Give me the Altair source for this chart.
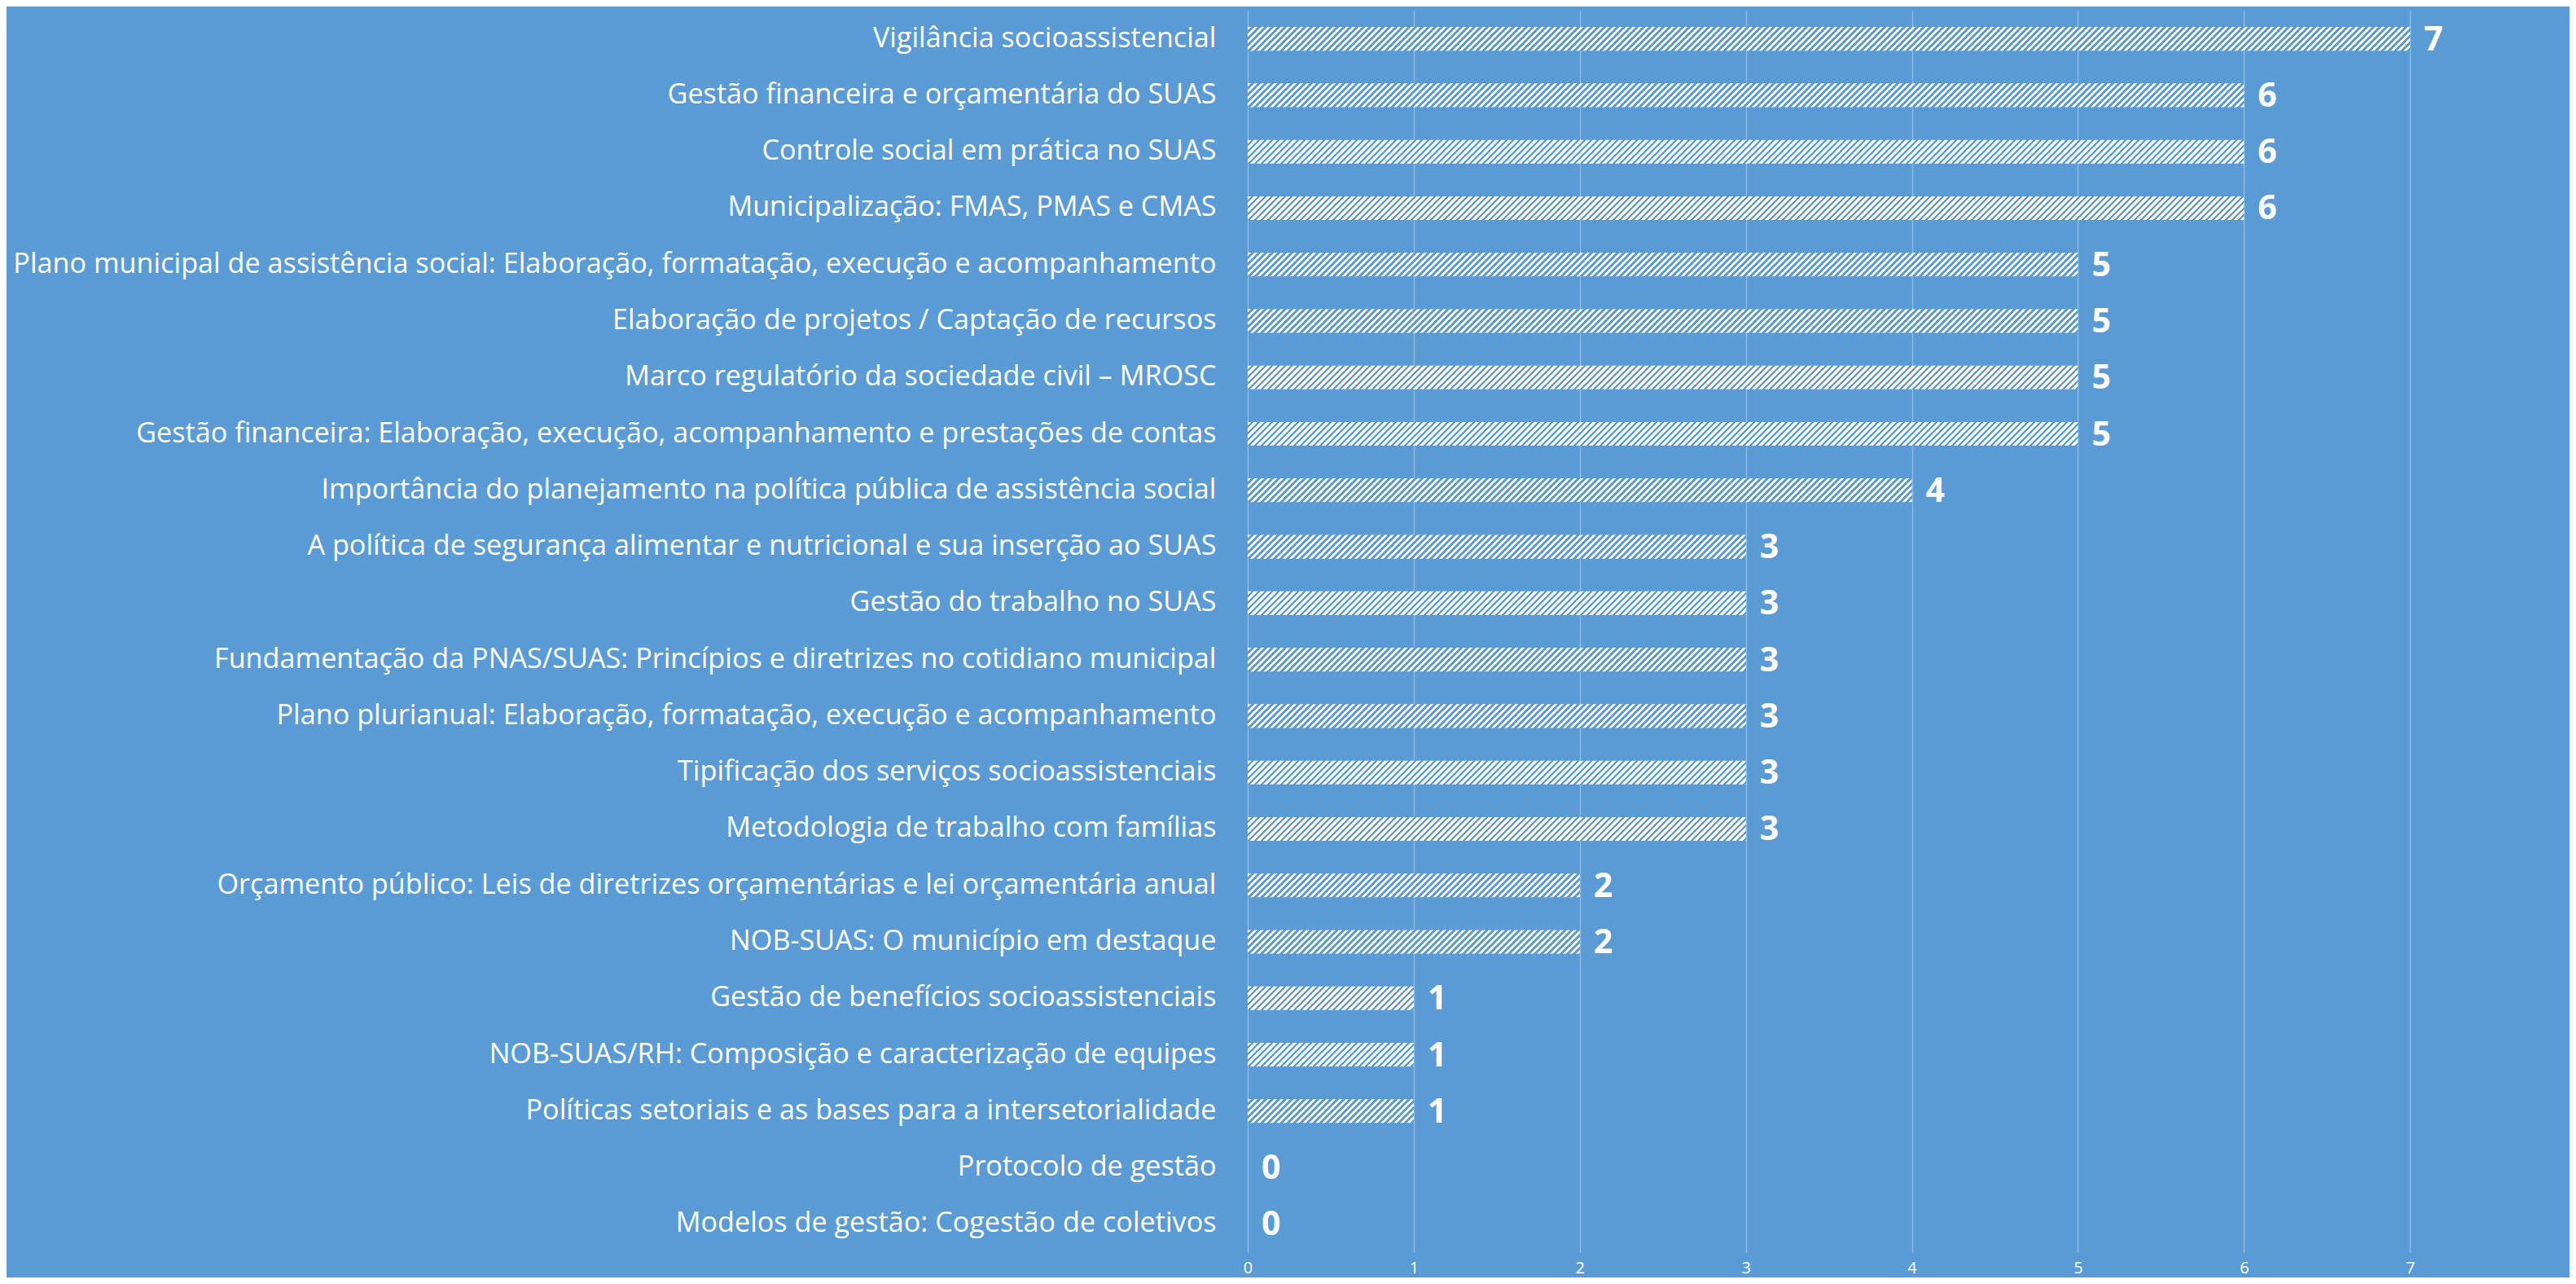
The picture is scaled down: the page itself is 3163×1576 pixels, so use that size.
import altair as alt
import pandas as pd

categories = [
    "Vigilância socioassistencial",
    "Gestão financeira e orçamentária do SUAS",
    "Controle social em prática no SUAS",
    "Municipalização: FMAS, PMAS e CMAS",
    "Plano municipal de assistência social: Elaboração, formatação, execução e acompanhamento",
    "Elaboração de projetos / Captação de recursos",
    "Marco regulatório da sociedade civil – MROSC",
    "Gestão financeira: Elaboração, execução, acompanhamento e prestações de contas",
    "Importância do planejamento na política pública de assistência social",
    "A política de segurança alimentar e nutricional e sua inserção ao SUAS",
    "Gestão do trabalho no SUAS",
    "Fundamentação da PNAS/SUAS: Princípios e diretrizes no cotidiano municipal",
    "Plano plurianual: Elaboração, formatação, execução e acompanhamento",
    "Tipificação dos serviços socioassistenciais",
    "Metodologia de trabalho com famílias",
    "Orçamento público: Leis de diretrizes orçamentárias e lei orçamentária anual",
    "NOB-SUAS: O município em destaque",
    "Gestão de benefícios socioassistenciais",
    "NOB-SUAS/RH: Composição e caracterização de equipes",
    "Políticas setoriais e as bases para a intersetorialidade",
    "Protocolo de gestão",
    "Modelos de gestão: Cogestão de coletivos",
]
values = [7, 6, 6, 6, 5, 5, 5, 5, 4, 3, 3, 3, 3, 3, 3, 2, 2, 1, 1, 1, 0, 0]
x_ticks = [0, 1, 2, 3, 4, 5, 6, 7]

df = pd.DataFrame({"category": categories, "value": values})

BG = "#5B9BD5"
W_PLOT = 1623
H_PLOT = 1524
X_MAX = 7.96
P_INNER = 0.58
PERIOD = 8.0
WHITE_FRAC = 0.55

n_cat = len(categories)
step = H_PLOT / n_cat
bar_h = step * (1 - P_INNER)
unit = W_PLOT / X_MAX


def hatch(v):
    w = v * unit
    h = bar_h
    r = h / w
    k = (1 + r) / (1 + r * r)
    total = w + h
    stops = []
    i = 0
    while True:
        o0 = i * PERIOD / total
        if o0 >= 1:
            break
        o1 = min(1.0, (i * PERIOD + PERIOD * WHITE_FRAC) / total)
        o2 = min(1.0, (i + 1) * PERIOD / total)
        stops += [
            alt.GradientStop(offset=o0, color="#FFFFFF"),
            alt.GradientStop(offset=o1, color="#FFFFFF"),
            alt.GradientStop(offset=o1, color=BG),
            alt.GradientStop(offset=o2, color=BG),
        ]
        i += 1
    return alt.LinearGradient(gradient="linear", stops=stops, x1=0, y1=0, x2=k, y2=k * r)


y_enc = alt.Y(
    "category:N",
    scale=alt.Scale(domain=categories, paddingInner=P_INNER, paddingOuter=P_INNER / 2),
    axis=alt.Axis(
        title=None, labelFont="Open Sans", labelFontSize=34.2, labelColor="white",
        labelPadding=39, ticks=False, domain=False, labelLimit=3000, grid=False,
    ),
)
x_enc = alt.X(
    "value:Q",
    scale=alt.Scale(domain=[0, X_MAX], nice=False),
    axis=alt.Axis(
        title=None, values=x_ticks, grid=True, gridColor="white", gridOpacity=0.3,
        gridWidth=1.5, labelColor="white", labelFont="Open Sans", labelFontSize=20,
        labelPadding=9, ticks=False, domain=False, labelFlush=False, labelOverlap=False,
    ),
)

base = alt.Chart(df)
layers = []
for v in sorted(set(values), reverse=True):
    if v <= 0:
        continue
    layers.append(
        base.transform_filter(alt.datum.value == v)
        .mark_bar(color=hatch(v))
        .encode(x=x_enc, y=y_enc)
    )

text = base.mark_text(
    align="left", baseline="middle", dx=17, dy=2, font="Open Sans",
    fontWeight="bold", fontSize=41, color="white",
).encode(x=x_enc, y=y_enc, text=alt.Text("value:Q"))

chart = (
    alt.layer(*layers, text)
    .properties(
        width=W_PLOT, height=H_PLOT,
        autosize=alt.AutoSizeParams(type="none"),
        padding={"left": 1524, "top": 5, "right": 0, "bottom": 31},
    )
    .configure(background=BG)
    .configure_view(stroke=None)
)

chart.save("out.html", embed_options={"renderer": "svg", "actions": False})
